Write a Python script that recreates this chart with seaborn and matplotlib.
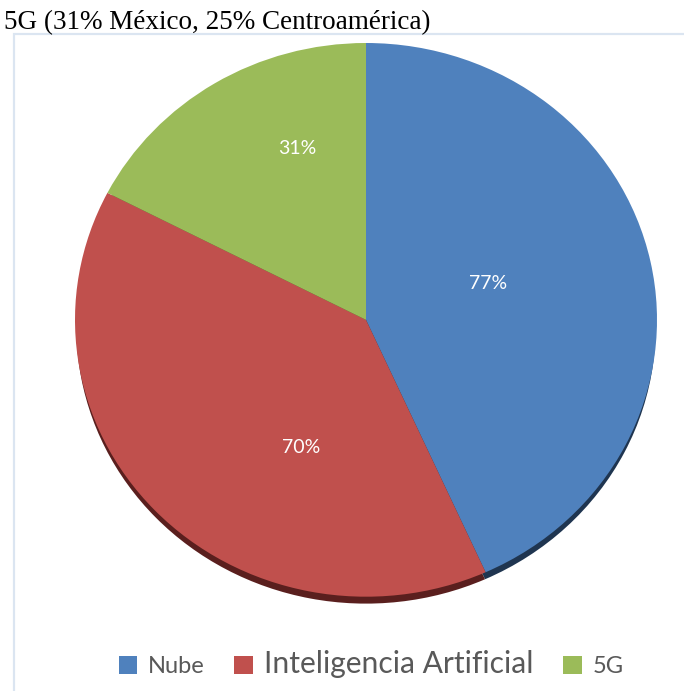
import matplotlib
matplotlib.use("Agg")
import matplotlib.pyplot as plt
from matplotlib.patches import Rectangle, Patch
import seaborn as sns

categorias = ["Nube", "Inteligencia Artificial", "5G"]
valores = [77, 70, 31]
titulo = "5G (31% México, 25% Centroamérica)"

colores = ["#4f81bd", "#c0504d", "#9bbb59"]
sombras = ["#1f3550", "#5a1f1e", "#4a5c28"]

sns.set_style("white")
plt.rcParams["font.family"] = ["Lato", "DejaVu Sans"]

fig = plt.figure(figsize=(6.84, 6.91), dpi=100)

# axes sized so the pie fills the picture like the original (slightly flattened)
ax = fig.add_axes([75 / 684, 86 / 691, 582 / 684, 562 / 691])

# dark rim under the pie
ax.pie(valores, colors=sombras, startangle=90, counterclock=False,
       center=(0, -0.03), radius=0.995, wedgeprops={"linewidth": 0})
wedges, _ = ax.pie(valores, colors=colores, startangle=90, counterclock=False,
                   wedgeprops={"linewidth": 0})
ax.set_aspect("auto")
ax.set_xlim(-1, 1)
ax.set_ylim(-1.03, 1)

# percentage labels (Excel puts them off the mid-angle ray)
pos_etiquetas = [(0.42, 0.13), (-0.223, -0.46), (-0.237, 0.62)]
for (x, y), v in zip(pos_etiquetas, valores):
    ax.text(x, y, f"{v}%", color="white", fontsize=14, ha="center", va="center")

# light border around the chart area
fig.add_artist(Rectangle((14 / 684, -0.01), 1.0, 1 - 34 / 691 + 0.01,
                         transform=fig.transFigure, fill=False,
                         edgecolor="#dbe5f1", linewidth=1.6))

fig.text(4 / 684, 1 - 29 / 691, titulo, family="Liberation Serif",
         fontsize=19.5, color="black", ha="left", va="baseline")

handles = [Patch(facecolor=c, edgecolor="none") for c in colores]
leg = fig.legend(handles, categorias, loc="center", ncol=3,
                 bbox_to_anchor=(371 / 684, 1 - 664 / 691), frameon=False,
                 fontsize=17, handlelength=0.8, handleheight=0.8,
                 handletextpad=0.45, columnspacing=1.25, labelcolor="#595959")
leg.get_texts()[1].set_fontsize(21.6)

fig.savefig("out.png", dpi=100)
